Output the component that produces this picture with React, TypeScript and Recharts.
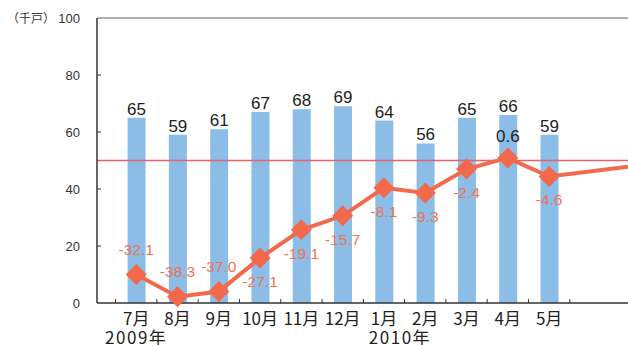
import React from 'react';
import { ComposedChart, Bar, Line, XAxis, YAxis, ReferenceLine, LabelList } from 'recharts';

const months = ['7月', '8月', '9月', '10月', '11月', '12月', '1月', '2月', '3月', '4月', '5月'];
const yearLabels = ['2009年', '', '', '', '', '', '2010年', '', '', '', ''];
const units = [65, 59, 61, 67, 68, 69, 64, 56, 65, 66, 59];
const indexLine = [10, 2.2, 4, 15.8, 25.7, 30.6, 40.4, 38.6, 47, 50.9, 44.4];
const lineContinuation = 48; // line runs on past the right edge
const changeLabels = ['-32.1', '-38.3', '-37.0', '-27.1', '-19.1', '-15.7', '-8.1', '-9.3', '-2.4', '0.6', '-4.6'];
const yTicks = [0, 20, 40, 60, 80, 100];
const refValue = 50;

// label styling config (not data)
const labelAbove = [true, true, true, false, false, false, false, false, false, true, false];
const labelDark = [false, false, false, false, false, false, false, false, false, true, false];

const BAR = '#8BBDE7';
const LINE = '#F26A4B';
const AXIS = '#333333';

const data = [
  ...months.map((m, i) => ({ x: i, month: m, units: units[i], line: indexLine[i], pct: changeLabels[i] })),
  { x: months.length + 1, line: lineContinuation },
];

const xTicks: number[] = [];
for (let i = 0; i < months.length; i++) {
  xTicks.push(i - 0.5, i);
}
xTicks.push(months.length - 0.5);

const CJK = '"Noto Sans CJK JP", "Noto Sans", sans-serif';
const NARROW = '"Liberation Sans Narrow", "Liberation Sans", Arial, sans-serif';

const XTick = (props: any) => {
  const { x, y, payload } = props;
  const v = payload.value;
  if (Number.isInteger(v)) {
    const yr = yearLabels[v];
    const yrDx = v === 0 ? 0 : 16;
    return (
      <g>
        <text x={x} y={y + 22} textAnchor="middle" fontSize={17} fontFamily={CJK} fill="#222">
          {months[v]}
        </text>
        {yr ? (
          <text x={x + yrDx} y={y + 41} textAnchor="middle" fontSize={17} letterSpacing={1.5} fontFamily={CJK} fill="#222">
            {yr}
          </text>
        ) : null}
      </g>
    );
  }
  return <line x1={x} x2={x} y1={y} y2={y - 4} stroke={AXIS} strokeWidth={1} />;
};

const YTick = (props: any) => {
  const { x, y, payload } = props;
  const v = payload.value;
  return (
    <g>
      <text x={x - 17} y={y + 5} textAnchor="end" fontSize={13} fontFamily='"Liberation Sans", Arial, sans-serif' fill="#333">
        {v}
      </text>
      {v > 0 && v < 100 ? <line x1={x} x2={x + 4} y1={y} y2={y} stroke={AXIS} strokeWidth={1} /> : null}
      {v === 100 ? (
        <text x={x - 42} y={y + 5} textAnchor="end" fontSize={12} fontFamily={CJK} fill="#333">
          （千戸）
        </text>
      ) : null}
    </g>
  );
};

const Diamond = (props: any) => {
  const { cx, cy, index } = props;
  if (index >= months.length || cx == null || cy == null) return <g key={`d${index}`} />;
  const r = 10.5;
  return (
    <polygon
      key={`d${index}`}
      points={`${cx},${cy - r} ${cx + r},${cy} ${cx},${cy + r} ${cx - r},${cy}`}
      fill={LINE}
    />
  );
};

const PctLabel = (props: any) => {
  const { x, y, value, index } = props;
  if (value == null || index >= months.length) return null;
  const above = labelAbove[index];
  const dark = labelDark[index];
  return (
    <text
      x={x}
      y={above ? y - (dark ? 16 : 20) : y + 29}
      textAnchor="middle"
      fontSize={dark ? 17 : 15.5}
      fontFamily={NARROW}
      fill={dark ? '#222' : '#F27358'}
    >
      {value}
    </text>
  );
};

export default function App() {
  return (
    <div style={{ position: 'absolute', left: 0, top: 0, width: 628, height: 345, overflow: 'hidden', background: '#fff' }}>
      <ComposedChart width={673} height={345} data={data} margin={{ top: 18, right: 0, bottom: 0, left: 0 }}>
        <XAxis
          dataKey="x"
          type="number"
          domain={[-0.95, 13]}
          allowDataOverflow
          ticks={xTicks}
          interval={0}
          tick={<XTick />}
          tickLine={false}
          tickSize={0}
          tickMargin={0}
          height={42}
          axisLine={{ stroke: AXIS, strokeWidth: 1.5 }}
        />
        <YAxis
          type="number"
          domain={[0, 100]}
          ticks={yTicks}
          interval={0}
          width={97}
          tick={<YTick />}
          tickLine={false}
          tickSize={0}
          tickMargin={0}
          axisLine={{ stroke: AXIS, strokeWidth: 1.5 }}
        />
        <ReferenceLine y={100} stroke="#666" strokeWidth={1.2} />
        <ReferenceLine y={refValue} stroke="#E8626A" strokeWidth={1.3} />
        <Bar dataKey="units" barSize={18} fill={BAR} isAnimationActive={false}>
          <LabelList dataKey="units" position="top" offset={3} style={{ fontSize: 17, fontFamily: NARROW, fill: '#222' }} />
        </Bar>
        <Line
          dataKey="line"
          stroke={LINE}
          strokeWidth={4}
          dot={Diamond}
          activeDot={false}
          isAnimationActive={false}
        >
          <LabelList dataKey="pct" content={PctLabel} />
        </Line>
      </ComposedChart>
    </div>
  );
}
